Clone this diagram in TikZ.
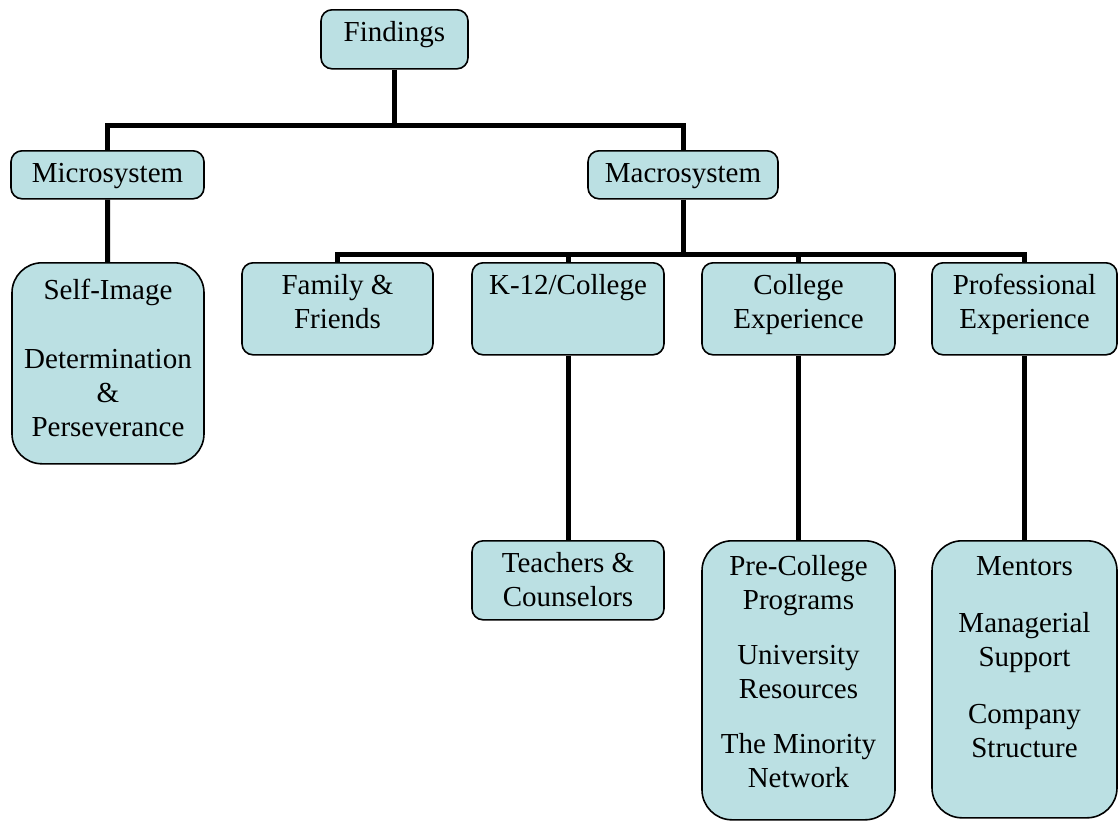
\documentclass[tikz,border=0pt]{standalone}
\usepackage{fontspec}
\setmainfont{Liberation Serif}
\usepackage{xcolor}
\usepackage{tikz}
\usetikzlibrary{positioning}

\definecolor{boxfill}{RGB}{187,224,227}

\begin{document}
\begin{tikzpicture}[x=1pt, y=-1pt,
  box/.style={draw, fill=boxfill, line width=1.6pt, rounded corners=11pt,
    anchor=north, inner sep=0pt, align=flush center,
    font=\fontsize{29}{34}\selectfont},
  tallbox/.style={box, rounded corners=30pt},
  link/.style={line width=5pt}]

\useasboundingbox (0,0) rectangle (1118,820);

% top
\node[box, text width=147pt, text height=32pt, text depth=27pt] (find) at (394.5,9) {Findings};

\node[box, text width=193pt, text height=31.5pt, text depth=16.5pt] (micro) at (107.5,150) {Microsystem};
\node[box, text width=190pt, text height=31.5pt, text depth=16.5pt] (macro) at (683,150) {Macrosystem};

% second row
\node[tallbox, text width=192pt, text height=37pt, text depth=164pt] (self) at (108,262)
  {Self-Image\\[35pt]Determination\\\&\\Perseverance};

\node[box, text width=191pt, text height=32pt, text depth=60pt] (fam) at (337.5,262) {Family \&\\Friends};
\node[box, text width=192pt, text height=32pt, text depth=60pt] (k12) at (568,262) {K-12/College};
\node[box, text width=193pt, text height=32pt, text depth=60pt] (coll) at (798.5,262) {College\\Experience};
\node[box, text width=185pt, text height=32pt, text depth=60pt] (prof) at (1024.5,262) {Professional\\Experience};

% bottom row
\node[box, text width=192pt, text height=32pt, text depth=47pt] (teach) at (568,540) {Teachers \&\\Counselors};
\node[tallbox, text width=193pt, text height=35pt, text depth=244pt] (pre) at (798.5,540)
  {Pre-College\\Programs\\[21pt]University\\Resources\\[21pt]The Minority\\Network};
\node[tallbox, text width=185pt, text height=35pt, text depth=242pt] (ment) at (1024.5,540)
  {Mentors\\[23pt]Managerial\\Support\\[23pt]Company\\Structure};

% connectors
\coordinate (bus1) at (394.5,125);
\coordinate (bus2) at (683,254);

\draw[link] (find) -- (bus1);
\draw[link] (micro) |- (bus1) -| (macro);
\draw[link] (micro) -- (self);

\draw[link] (macro) -- (bus2);
\draw[link] (fam) |- (bus2) -| (prof);
\draw[link] (k12) -- (k12 |- bus2);
\draw[link] (coll) -- (coll |- bus2);

\draw[link] (k12) -- (teach);
\draw[link] (coll) -- (pre);
\draw[link] (prof) -- (ment);

\end{tikzpicture}
\end{document}
